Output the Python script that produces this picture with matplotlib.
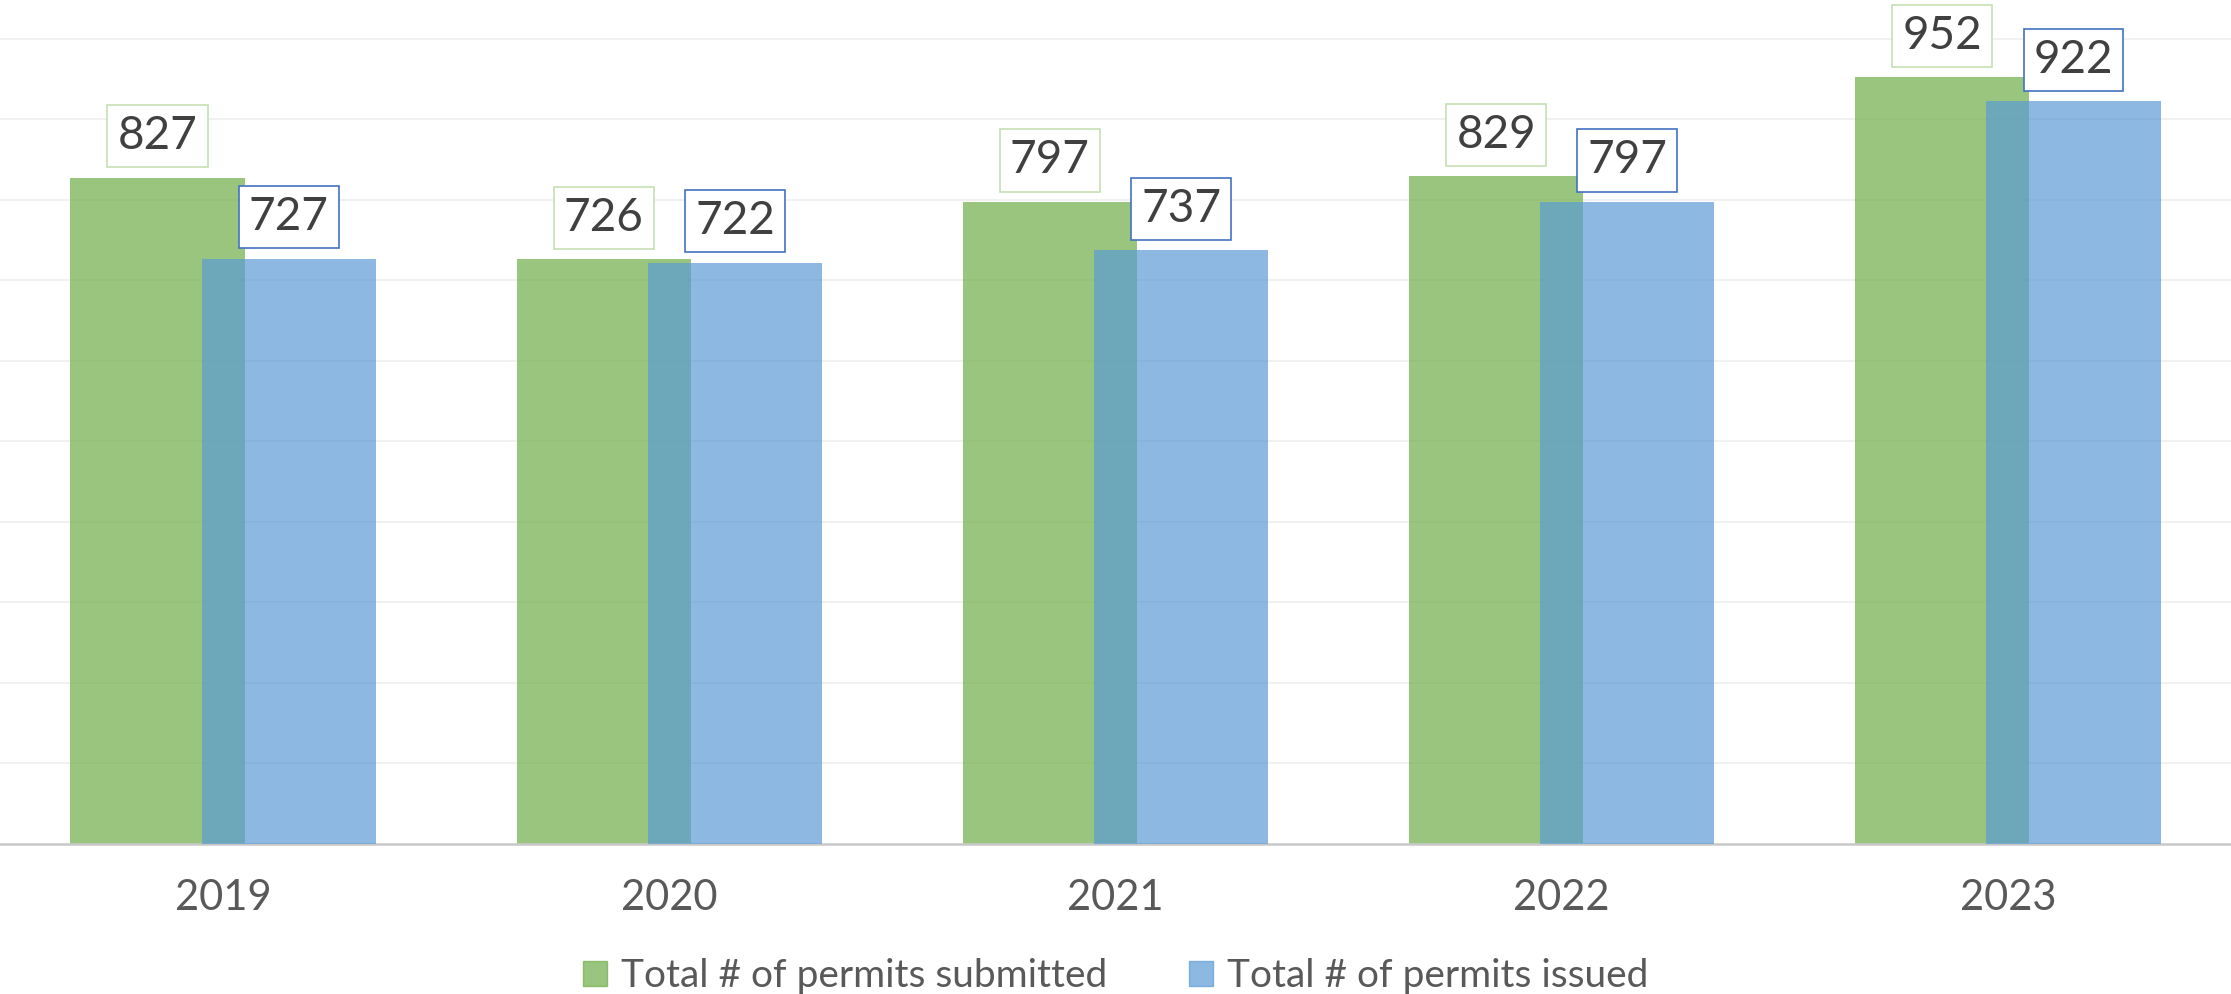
import numpy as np
import matplotlib.pyplot as plt
from matplotlib.patches import Patch

years = ["2019", "2020", "2021", "2022", "2023"]
submitted = [827, 726, 797, 829, 952]
issued = [727, 722, 737, 797, 922]

green = "#70AD47"
blue = "#5B9BD5"
text_col = "#404040"
tick_col = "#595959"

plt.rcParams["font.family"] = ["Lato", "DejaVu Sans"]

fig = plt.figure(figsize=(22.31, 9.94), dpi=100)
ax = fig.add_axes([0, 150 / 994, 1, 844 / 994])

x = np.arange(len(years))
w = 0.39
off = 0.147

ax.bar(x - off, submitted, width=w, color=green, alpha=0.7, zorder=2)
ax.bar(x + off, issued, width=w, color=blue, alpha=0.7, zorder=3)

# data labels in boxes
for xi, v in zip(x - off, submitted):
    ax.annotate(str(v), (xi, v), xytext=(0, 30), textcoords="offset points",
                ha="center", va="center", fontsize=33, color=text_col,
                annotation_clip=False, zorder=5,
                bbox=dict(boxstyle="square,pad=0.22", fc="white", ec="#C5E0B4", lw=1.2))
for xi, v in zip(x + off, issued):
    ax.annotate(str(v), (xi, v), xytext=(0, 30), textcoords="offset points",
                ha="center", va="center", fontsize=33, color=text_col,
                annotation_clip=False, zorder=5,
                bbox=dict(boxstyle="square,pad=0.22", fc="white", ec="#4472C4", lw=1.2))

ax.set_xlim(-0.5, 4.5)
ax.set_ylim(0, 1048)
ax.set_yticks(np.arange(100, 1001, 100))
ax.yaxis.grid(True, color="#EFEFEF", linewidth=1.2, zorder=0)
ax.set_axisbelow(True)
ax.tick_params(axis="y", left=False, labelleft=False)
ax.set_xticks(x)
ax.set_xticklabels(years, fontsize=30, color=tick_col)
ax.tick_params(axis="x", length=0, pad=25)
for s in ["top", "left", "right"]:
    ax.spines[s].set_visible(False)
ax.spines["bottom"].set_color("#C8C8C8")
ax.spines["bottom"].set_linewidth(1.8)

handles = [Patch(color=green, alpha=0.7), Patch(color=blue, alpha=0.7)]
labels = ["Total # of permits submitted", "Total # of permits issued"]
leg = fig.legend(handles, labels, loc="center", bbox_to_anchor=(0.5, 1 - 976 / 994),
                 ncol=2, frameon=False, fontsize=28, handlelength=0.62,
                 handleheight=0.62, handletextpad=0.36, columnspacing=2.1,
                 borderaxespad=0, borderpad=0)
for t in leg.get_texts():
    t.set_color(tick_col)

fig.savefig("out.png", dpi=100)
